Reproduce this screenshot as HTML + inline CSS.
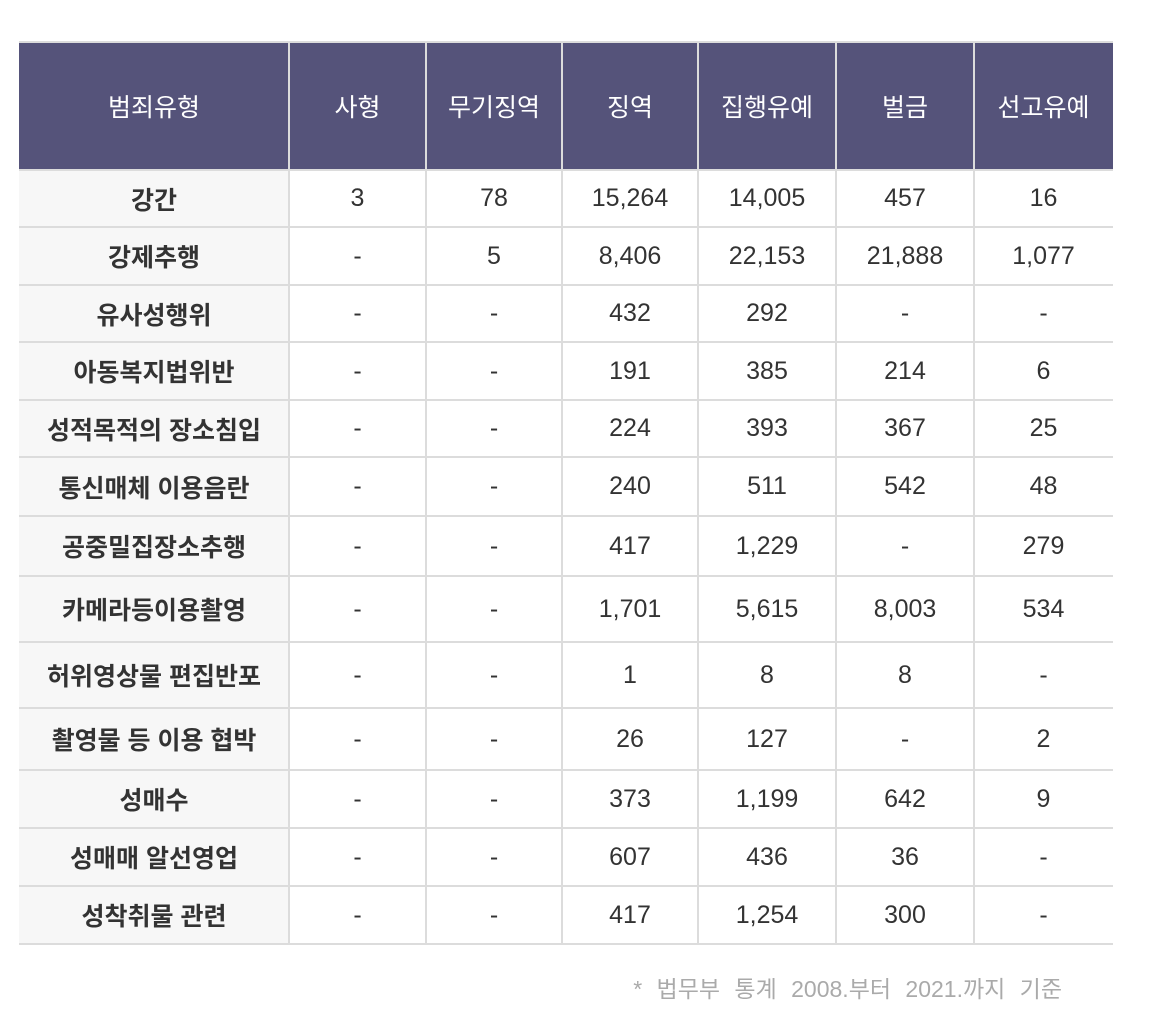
<!DOCTYPE html>
<html><head><meta charset="utf-8"><style>
body{margin:0;width:1170px;height:1026px;background:#fff;position:relative;overflow:hidden;font-family:"Liberation Sans","Noto Sans CJK KR",sans-serif}
.c{position:absolute;display:flex;align-items:center;justify-content:center;box-sizing:border-box;font-size:25px;color:#333}
.h{background:#55537a;color:#fff;font-size:25px}
.f{background:#f7f7f7;font-weight:bold}
.ln{position:absolute;background:#dcdcdc}
#note{position:absolute;right:108px;top:970px;font-size:23px;color:#aaa;word-spacing:8px}
</style></head><body>
<div id="tbl"></div>
<div id="note">* 법무부 통계 2008.부터 2021.까지 기준</div>
<script>
const headers=["범죄유형","사형","무기징역","징역","집행유예","벌금","선고유예"];
const crimeTypes=["강간","강제추행","유사성행위","아동복지법위반","성적목적의 장소침입","통신매체 이용음란","공중밀집장소추행","카메라등이용촬영","허위영상물 편집반포","촬영물 등 이용 협박","성매수","성매매 알선영업","성착취물 관련"];
const deathPenalty=["3","-","-","-","-","-","-","-","-","-","-","-","-"];
const lifeSentence=["78","5","-","-","-","-","-","-","-","-","-","-","-"];
const imprisonment=["15,264","8,406","432","191","224","240","417","1,701","1","26","373","607","417"];
const probation=["14,005","22,153","292","385","393","511","1,229","5,615","8","127","1,199","436","1,254"];
const fine=["457","21,888","-","214","367","542","-","8,003","8","-","642","36","300"];
const suspended=["16","1,077","-","6","25","48","279","534","-","2","9","-","-"];
const cols=[19,289,426,562,698,836,974,1113];
const rows=[42,170,227,285,342,400,457,516,576,642,708,770,828,886,944];
const T=document.getElementById('tbl');
function cell(x0,x1,y0,y1,txt,cls,name){
 const d=document.createElement('div');
 d.className='c '+cls;
 d.style.left=x0+'px';d.style.top=y0+'px';d.style.width=(x1-x0)+'px';d.style.height=(y1-y0)+'px';
 d.textContent=txt;
 
 
 T.appendChild(d);
}
headers.forEach((h,i)=>cell(cols[i],cols[i+1],rows[0],rows[1],h,'h','header-'+i));
const series=[crimeTypes,deathPenalty,lifeSentence,imprisonment,probation,fine,suspended];
crimeTypes.forEach((_,r)=>{
 series.forEach((s,c)=>cell(cols[c],cols[c+1],rows[r+1],rows[r+2],s[r],c===0?'f':'',c===0?'crime-type-cell':'value-cell'));
});
for(let i=0;i<rows.length;i++){
 const d=document.createElement('div');d.className='ln';
 
 
 d.style.left=cols[0]+'px';d.style.width=(cols[7]-cols[0])+'px';d.style.top=(rows[i]-1)+'px';d.style.height='2px';
 T.appendChild(d);
}
for(let i=1;i<cols.length-1;i++){
 const d=document.createElement('div');d.className='ln';
 
 
 d.style.left=(cols[i]-1)+'px';d.style.width='2px';d.style.top=rows[0]+'px';d.style.height=(rows[rows.length-1]-rows[0])+'px';
 T.appendChild(d);
}
</script>
</body></html>
